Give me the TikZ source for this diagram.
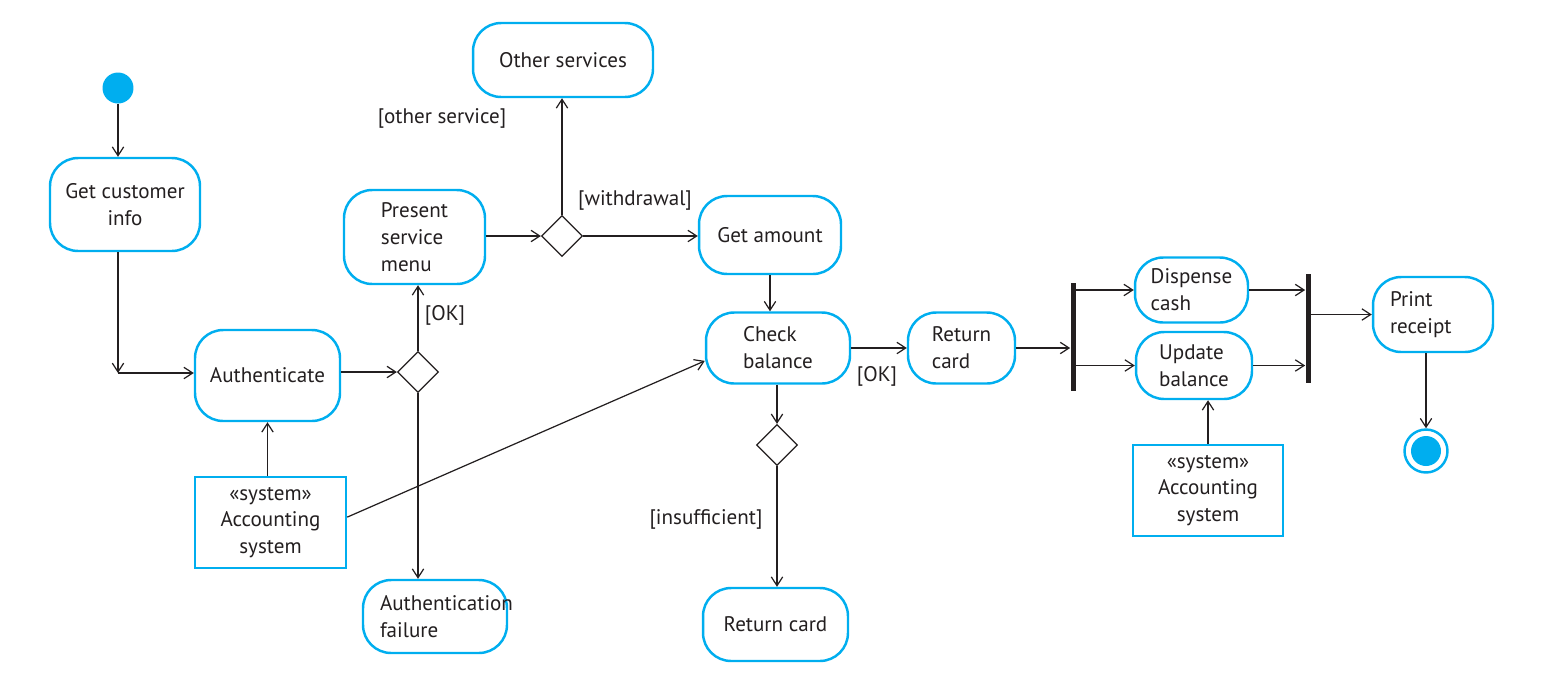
\documentclass[tikz,border=0pt]{standalone}
\usepackage{fontspec}
\setmainfont{PT Sans}
\usetikzlibrary{arrows.meta,shapes.geometric}
\definecolor{umlcyan}{HTML}{00AEEF}
\definecolor{ink}{HTML}{231F20}
\begin{document}
\begin{tikzpicture}[x=0.02cm,y=-0.02cm,
  font=\fontsize{12}{15.3}\selectfont, text=ink,
  act/.style={draw=umlcyan, line width=1.4pt, rounded corners=16pt, align=left, inner sep=0pt},
  sysbox/.style={draw=umlcyan, line width=1.4pt, align=center, inner sep=0pt},
  dec/.style={draw=ink, diamond, line width=0.7pt, inner sep=0pt, minimum width=0.82cm, minimum height=0.82cm},
  bar/.style={fill=ink, inner sep=0pt, minimum width=0.1cm},
  flow/.style={draw=ink, line width=0.7pt, -{Straight Barb[length=5pt,width=6.5pt]}},
  plain/.style={draw=ink, line width=0.7pt},
  guard/.style={inner sep=0pt, text=ink}]
\useasboundingbox (0,0) rectangle (1566,684);
% initial and final
\node[circle, fill=umlcyan, inner sep=0pt, minimum size=0.62cm] (start) at (118,88) {};
\node[circle, draw=umlcyan, line width=1.4pt, fill=white, inner sep=0pt, minimum size=0.86cm] (final) at (1426,451) {};
\node[circle, fill=umlcyan, inner sep=0pt, minimum size=0.6cm] (finalin) at (1426,451) {};
% activities
\node[act, align=center, minimum width=3cm, minimum height=1.86cm] (gci) at (125,204.5) {Get customer\\info};
\node[act, minimum width=2.9cm, minimum height=1.82cm] (auth) at (267.5,375.5) {Authenticate};
\node[act, minimum width=2.82cm, minimum height=1.88cm] (psm) at (414.5,237) {Present\\service\\menu};
\node[act, minimum width=3.6cm, minimum height=1.48cm] (other) at (563,60) {Other services};
\node[act, minimum width=2.84cm, minimum height=1.56cm] (getamt) at (770,235) {Get amount};
\node[act, minimum width=2.88cm, minimum height=1.42cm] (check) at (778,348) {Check\\balance};
\node[act, minimum width=2.14cm, minimum height=1.42cm] (ret1) at (961.5,348) {Return\\card};
\node[act, minimum width=2.26cm, minimum height=1.3cm] (dc) at (1191.5,290) {Dispense\\cash};
\node[act, minimum width=2.32cm, minimum height=1.34cm] (ub) at (1194,365.5) {Update\\balance};
\node[act, text width=1.72cm, minimum width=2.4cm, minimum height=1.5cm] (pr) at (1433,314.5) {Print\\receipt};
\node[act, minimum width=2.9cm, minimum height=1.46cm] (ret2) at (775.5,624.5) {Return card};
\node[act, text width=2.2cm, minimum width=2.88cm, minimum height=1.46cm] (authfail) at (435,616.5) {Authentication\\failure};
\node[sysbox, minimum width=3.02cm, minimum height=1.82cm] (acc1) at (270.5,522.5) {«system»\\Accounting\\system};
\node[sysbox, minimum width=3cm, minimum height=1.82cm] (acc2) at (1208,490.5) {«system»\\Accounting\\system};
% decisions and bars
\node[dec] (d1) at (418,372) {};
\node[dec] (d2) at (562,236) {};
\node[dec] (d3) at (777,445) {};
\node[bar, minimum height=2.16cm] (bar1) at (1073,337) {};
\node[bar, minimum height=2.18cm] (bar2) at (1308,328.5) {};
\coordinate (c1) at (118,373);
% guards
\node[guard] (gok1) at (445,315) {[OK]};
\node[guard] (gother) at (442,118) {[other service]};
\node[guard] (gwd) at (635,200) {[withdrawal]};
\node[guard] (gok2) at (877,376) {[OK]};
\node[guard] (gins) at (706,519) {[insufficient]};
% flows
\draw[flow] (start) -- (start |- gci.north);
\draw[flow] (gci.south -| c1) -- (c1);
\draw[flow] (c1) -- (c1 -| auth.west);
\draw[flow] (auth.east |- d1) -- (d1.west);
\draw[flow] (d1.north) -- (d1.north |- psm.south);
\draw[flow] (d1.south) -- (d1.south |- authfail.north);
\draw[flow] (psm.east |- d2) -- (d2.west);
\draw[flow] (d2.north) -- (d2.north |- other.south);
\draw[flow] (d2.east) -- (d2.east -| getamt.west);
\draw[flow] (getamt.south) -- (getamt.south |- check.north);
\draw[flow] (check.east) -- (ret1.west);
\draw[flow] (check.south -| d3) -- (d3.north);
\draw[flow] (d3.south) -- (d3.south |- ret2.north);
\draw[flow] (ret1.east) -- (ret1.east -| bar1.west);
\draw[flow] (dc.west -| bar1.east) -- (dc.west);
\draw[flow] (ub.west -| bar1.east) -- (ub.west);
\draw[flow] (dc.east) -- (dc.east -| bar2.west);
\draw[flow] (ub.east) -- (ub.east -| bar2.west);
\draw[flow] (pr.west -| bar2.east) -- (pr.west);
\draw[flow] (pr.south -| final) -- (final.north);
\draw[flow] (acc1.north -| auth) -- (auth.south);
\draw[flow] (acc2.north) -- (acc2.north |- ub.south);
\draw[flow] (acc1.4) -- (check.190);
\end{tikzpicture}
\end{document}
